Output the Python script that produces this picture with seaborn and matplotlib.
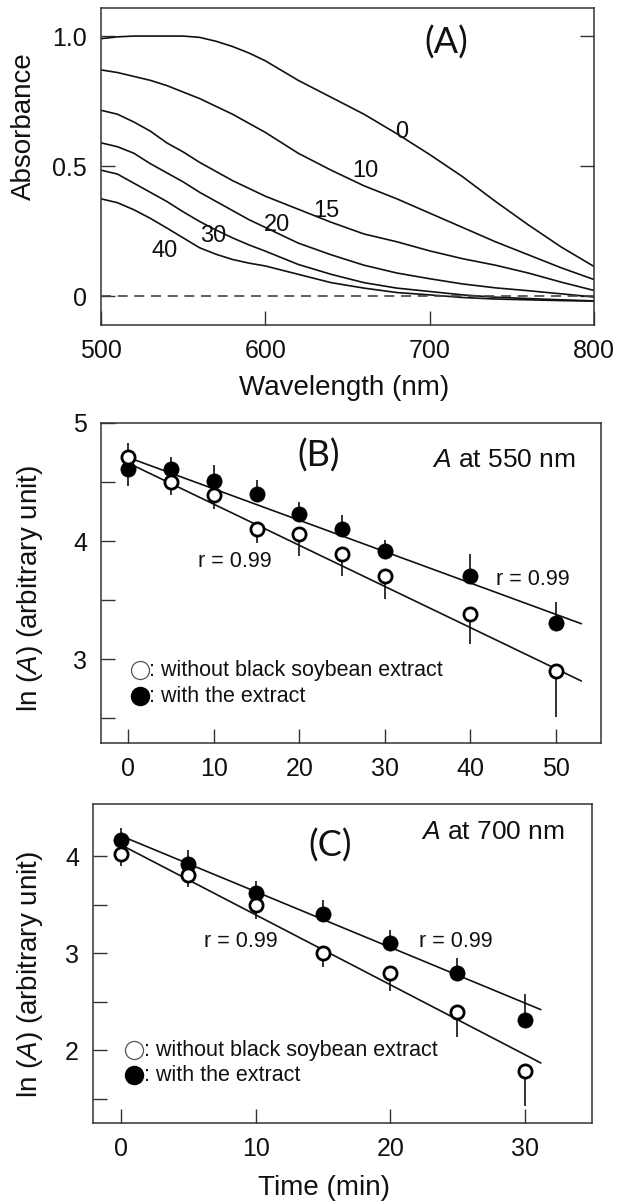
import numpy as np
import pandas as pd
import matplotlib
matplotlib.use("Agg")
import matplotlib.pyplot as plt
from matplotlib.ticker import FixedLocator
import seaborn as sns

# ---------------- Panel A data ----------------
wavelength = [500, 510, 520, 530, 540, 550, 560, 570, 580, 590, 600,
              620, 640, 660, 680, 700, 720, 740, 760, 780, 800]
abs_0 = [0.99, 0.997, 1.0, 1.0, 1.0, 1.0, 0.995, 0.98, 0.96, 0.935, 0.905,
         0.83, 0.765, 0.70, 0.625, 0.545, 0.46, 0.365, 0.275, 0.19, 0.115]
abs_10 = [0.87, 0.86, 0.845, 0.83, 0.81, 0.785, 0.76, 0.73, 0.70, 0.665, 0.63,
          0.55, 0.485, 0.425, 0.375, 0.32, 0.265, 0.21, 0.16, 0.11, 0.065]
abs_15 = [0.715, 0.70, 0.67, 0.635, 0.59, 0.555, 0.515, 0.48, 0.445, 0.415, 0.385,
          0.335, 0.285, 0.24, 0.21, 0.175, 0.145, 0.12, 0.09, 0.055, 0.023]
abs_20 = [0.59, 0.575, 0.55, 0.51, 0.475, 0.44, 0.40, 0.365, 0.33, 0.295, 0.265,
          0.205, 0.16, 0.12, 0.09, 0.068, 0.048, 0.033, 0.022, 0.01, -0.002]
abs_30 = [0.485, 0.47, 0.435, 0.40, 0.365, 0.325, 0.288, 0.255, 0.225, 0.198, 0.174,
          0.123, 0.085, 0.053, 0.032, 0.019, 0.006, -0.003, -0.008, -0.013, -0.017]
abs_40 = [0.375, 0.36, 0.333, 0.30, 0.263, 0.225, 0.187, 0.162, 0.142, 0.128, 0.117,
          0.085, 0.053, 0.032, 0.015, 0.006, -0.004, -0.01, -0.013, -0.016, -0.018]
curve_labels = ["0", "10", "15", "20", "30", "40"]
label_wl = [683, 661, 637, 607, 568, 539]
label_abs = [0.63, 0.48, 0.327, 0.276, 0.231, 0.174]

# ---------------- Panel B data (550 nm) ----------------
time_b = [0, 5, 10, 15, 20, 25, 30, 40, 50]
b_without = [4.71, 4.50, 4.39, 4.10, 4.06, 3.89, 3.70, 3.38, 2.90]
b_without_err = [0.24, 0.11, 0.12, 0.12, 0.19, 0.19, 0.19, 0.25, 0.39]
b_with = [4.61, 4.61, 4.51, 4.40, 4.23, 4.10, 3.915, 3.70, 3.31]
b_with_err = [0.22, 0.10, 0.13, 0.12, 0.10, 0.12, 0.09, 0.19, 0.17]
b_fit_t = [0.5, 53.0]
b_fit_without = [4.643, 2.815]
b_fit_with = [4.694, 3.30]

# ---------------- Panel C data (700 nm) ----------------
time_c = [0, 5, 10, 15, 20, 25, 30]
c_without = [4.02, 3.81, 3.495, 3.0, 2.80, 2.395, 1.787]
c_without_err = [0.12, 0.13, 0.14, 0.14, 0.19, 0.26, 0.36]
c_with = [4.165, 3.924, 3.62, 3.41, 3.11, 2.80, 2.316]
c_with_err = [0.13, 0.14, 0.13, 0.14, 0.13, 0.15, 0.26]
c_fit_t = [0.2, 31.2]
c_fit_without = [4.103, 1.869]
c_fit_with = [4.199, 2.419]

legend_without = ": without black soybean extract"
legend_with = ": with the extract"

# ---------------- style ----------------
sns.set_theme(style="ticks")
plt.rcParams["font.family"] = ["Liberation Sans", "DejaVu Sans"]
plt.rcParams["mathtext.fontset"] = "custom"
plt.rcParams["mathtext.rm"] = "Liberation Sans"
plt.rcParams["mathtext.it"] = "Liberation Sans:italic"
plt.rcParams["axes.edgecolor"] = "#333333"
plt.rcParams["axes.linewidth"] = 1.1

INK = "#111111"
TICK_FS = 18
LABEL_FS = 20
PANEL_FONT = ["Lato", "Open Sans", "DejaVu Sans"]
PANEL_FS = 26
NOTE_FS = 15.5

fig = plt.figure(figsize=(6.18, 12.04), dpi=100)

def style_ticks(ax):
    ax.tick_params(which="both", direction="in", length=10, width=1.0,
                   colors="#333333", labelcolor=INK, labelsize=TICK_FS, pad=10)

# ================= Panel A =================
axA = fig.add_axes([0.1634, 0.730, 0.7978, 0.2634])
curves = [abs_0, abs_10, abs_15, abs_20, abs_30, abs_40]
dfA = pd.concat([pd.DataFrame({"wl": wavelength, "A": c, "t": lab})
                 for c, lab in zip(curves, curve_labels)])
sns.lineplot(data=dfA, x="wl", y="A", units="t", estimator=None,
             color=INK, lw=1.2, ax=axA, legend=False)
axA.axhline(0, color="#444444", lw=1.2, ls=(0, (6, 4)))
for lab, x, y in zip(curve_labels, label_wl, label_abs):
    axA.text(x, y, lab, fontsize=17, ha="center", va="center", color=INK)
axA.text(710, 0.975, "(A)", fontsize=PANEL_FS, family=PANEL_FONT, ha="center",
         va="center", color=INK)
axA.set_xlim(500, 800)
axA.set_ylim(-0.11, 1.108)
axA.set_xticks([500, 600, 700, 800])
axA.set_yticks([0, 0.5, 1.0])
axA.set_yticklabels(["0", "0.5", "1.0"])
style_ticks(axA)
axA.tick_params(right=True)
axA.set_xlabel("Wavelength (nm)", fontsize=LABEL_FS, color=INK)
axA.set_ylabel("Absorbance", fontsize=LABEL_FS, color=INK)
axA.xaxis.set_label_coords(0.493, -0.158)
axA.yaxis.set_label_coords(-0.130, 0.628)


def kinetics_panel(ax, t, v0, e0, v1, e1, ft, f0, f1):
    df = pd.DataFrame({"t": t, "without": v0, "with": v1})
    ax.vlines(t, np.array(v0) - np.array(e0), v0, color=INK, lw=1.2, zorder=2)
    ax.vlines(t, v1, np.array(v1) + np.array(e1), color=INK, lw=1.2, zorder=2)
    sns.lineplot(x=ft, y=f0, color=INK, lw=1.2, ax=ax, zorder=2)
    sns.lineplot(x=ft, y=f1, color=INK, lw=1.2, ax=ax, zorder=2)
    sns.scatterplot(data=df, x="t", y="with", marker="o", s=120,
                    color="black", edgecolor="black", linewidth=0.5,
                    ax=ax, zorder=3, legend=False)
    sns.scatterplot(data=df, x="t", y="without", marker="o", s=90,
                    facecolor="white", edgecolor="black", linewidth=2.0,
                    ax=ax, zorder=4, legend=False)


# ================= Panel B =================
axB = fig.add_axes([0.1634, 0.3829, 0.8091, 0.2658])
kinetics_panel(axB, time_b, b_without, b_without_err, b_with, b_with_err,
               b_fit_t, b_fit_without, b_fit_with)
axB.plot([1.4], [2.907], "o", ms=13, mfc="white", mec="#555555", mew=0.9)
axB.plot([1.4], [2.686], "o", ms=13, mfc="black", mec="black")
axB.text(2.45, 2.907, legend_without, fontsize=NOTE_FS, va="center", color=INK)
axB.text(2.45, 2.686, legend_with, fontsize=NOTE_FS, va="center", color=INK)
axB.text(12.4, 3.824, "r = 0.99", fontsize=15.5, ha="center", va="center", color=INK)
axB.text(47.3, 3.677, "r = 0.99", fontsize=15.5, ha="center", va="center", color=INK)
axB.text(22.3, 4.72, "(B)", fontsize=PANEL_FS, family=PANEL_FONT, ha="center",
         va="center", color=INK)
axB.text(43.9, 4.69, r"$\mathit{A}$ at 550 nm", fontsize=19, ha="center",
         va="center", color=INK)
axB.set_xlim(-3.2, 55.3)
axB.set_ylim(2.29, 5.0)
axB.set_xticks([0, 10, 20, 30, 40, 50])
axB.set_yticks([3, 4, 5])
axB.yaxis.set_minor_locator(FixedLocator([2.5, 3.5, 4.5]))
style_ticks(axB)
axB.set_xlabel("")
axB.set_ylabel(r"ln ($\mathit{A}$) (arbitrary unit)", fontsize=LABEL_FS, color=INK)
axB.yaxis.set_label_coords(-0.112, 0.484)

# ================= Panel C =================
axC = fig.add_axes([0.1505, 0.0673, 0.8074, 0.2649])
kinetics_panel(axC, time_c, c_without, c_without_err, c_with, c_with_err,
               c_fit_t, c_fit_without, c_fit_with)
axC.plot([0.94], [2.0], "o", ms=13, mfc="white", mec="#555555", mew=0.9)
axC.plot([0.94], [1.742], "o", ms=13, mfc="black", mec="black")
axC.text(1.7, 2.0, legend_without, fontsize=NOTE_FS, va="center", color=INK)
axC.text(1.7, 1.742, legend_with, fontsize=NOTE_FS, va="center", color=INK)
axC.text(8.86, 3.117, "r = 0.99", fontsize=15.5, ha="center", va="center", color=INK)
axC.text(24.9, 3.117, "r = 0.99", fontsize=15.5, ha="center", va="center", color=INK)
axC.text(15.56, 4.11, "(C)", fontsize=PANEL_FS, family=PANEL_FONT, ha="center",
         va="center", color=INK)
axC.text(27.6, 4.25, r"$\mathit{A}$ at 700 nm", fontsize=19, ha="center",
         va="center", color=INK)
axC.set_xlim(-2.1, 35.0)
axC.set_ylim(1.25, 4.54)
axC.set_xticks([0, 10, 20, 30])
axC.set_yticks([2, 3, 4])
axC.yaxis.set_minor_locator(FixedLocator([1.5, 2.5, 3.5]))
style_ticks(axC)
axC.set_xlabel("Time (min)", fontsize=LABEL_FS, color=INK)
axC.set_ylabel(r"ln ($\mathit{A}$) (arbitrary unit)", fontsize=LABEL_FS, color=INK)
axC.xaxis.set_label_coords(0.463, -0.163)
axC.yaxis.set_label_coords(-0.096, 0.467)

fig.savefig("out.png", dpi=100)
